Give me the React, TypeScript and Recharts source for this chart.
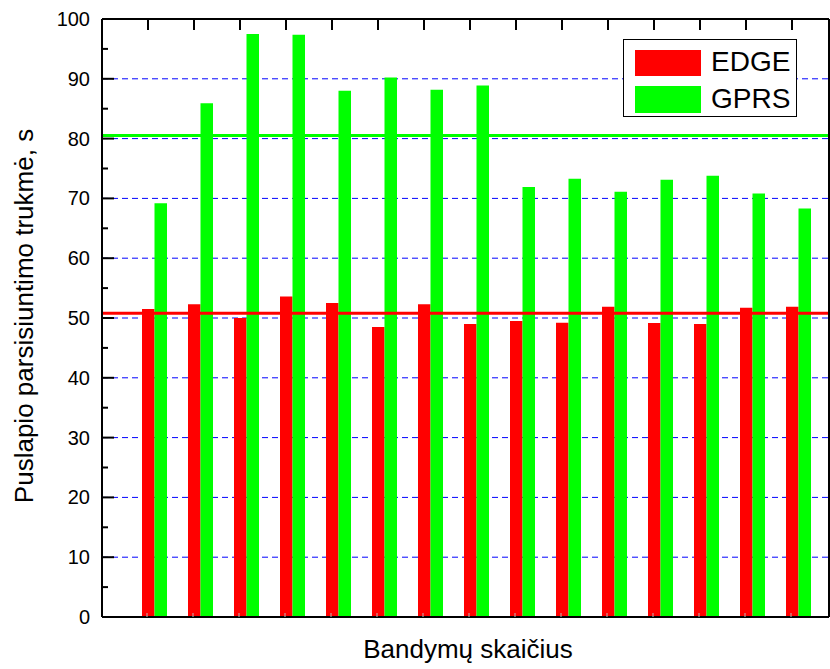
import React from 'react';
import {
  BarChart,
  Bar,
  XAxis,
  YAxis,
  CartesianGrid,
  ReferenceLine,
  Legend
} from 'recharts';

const TRIALS = ['1', '2', '3', '4', '5', '6', '7', '8', '9', '10', '11', '12', '13', '14', '15'];
const EDGE = [51.5, 52.3, 50.0, 53.6, 52.5, 48.5, 52.3, 49.0, 49.5, 49.2, 51.9, 49.15, 49.0, 51.7, 51.9];
const GPRS = [69.2, 85.9, 97.5, 97.35, 88.0, 90.2, 88.15, 88.9, 71.9, 73.3, 71.1, 73.1, 73.8, 70.8, 68.3];
const Y_TICKS = [0, 5, 10, 15, 20, 25, 30, 35, 40, 45, 50, 55, 60, 65, 70, 75, 80, 85, 90, 95, 100];
const GRID_VALUES = [10, 20, 30, 40, 50, 60, 70, 80, 90];

const FONT = 'Liberation Sans, Arial, Helvetica, sans-serif';
const W = 830;
const H = 669;
const PLOT_LEFT = 102;
const PLOT_RIGHT = 829;
const PLOT_TOP = 19;
const PLOT_BOTTOM = 617;

const mean = (arr: number[]) => arr.reduce((s, v) => s + v, 0) / arr.length;

const chartData = TRIALS.map((t, i) => ({ trial: t, edge: EDGE[i], gprs: GPRS[i] }));

const LeftTick = ({ x, y, payload }: any) => {
  const major = payload.value % 10 === 0;
  return (
    <g>
      <line x1={PLOT_LEFT} x2={PLOT_LEFT + (major ? 12 : 6)} y1={y} y2={y} stroke="#000" strokeWidth={2} />
      {major && (
        <text x={x} y={y} dy={7} textAnchor="end" fontFamily={FONT} fontSize={20} fill="#000">
          {payload.value}
        </text>
      )}
    </g>
  );
};

const RightTick = ({ y, payload }: any) => {
  const major = payload.value % 10 === 0;
  return <line x1={PLOT_RIGHT} x2={PLOT_RIGHT - (major ? 12 : 6)} y1={y} y2={y} stroke="#000" strokeWidth={2} />;
};

const TopTick = ({ x }: any) => (
  <line x1={x} x2={x} y1={PLOT_TOP} y2={PLOT_TOP + 11} stroke="#000" strokeWidth={2} />
);

const BottomTick = ({ x }: any) => (
  <line x1={x - 7} x2={x - 7} y1={PLOT_BOTTOM} y2={PLOT_BOTTOM - 4} stroke="#bbb" strokeWidth={1} />
);

const LegendBox = () => (
  <div
    style={{
      position: 'relative',
      width: 174,
      height: 78,
      border: '1.5px solid #000',
      background: '#fff',
      boxSizing: 'border-box',
      fontFamily: FONT,
      fontSize: 28,
      color: '#000'
    }}
  >
    <div style={{ position: 'absolute', left: 11, top: 10, width: 66, height: 26, background: '#ff0000' }} />
    <div style={{ position: 'absolute', left: 87, top: 6, lineHeight: '32px' }}>EDGE</div>
    <div style={{ position: 'absolute', left: 11, top: 46, width: 66, height: 27, background: '#00ff00' }} />
    <div style={{ position: 'absolute', left: 87, top: 43, lineHeight: '32px' }}>GPRS</div>
  </div>
);

export default function App() {
  return (
    <div style={{ position: 'absolute', left: 0, top: 0, width: W, height: H, background: '#fff' }}>
      <BarChart
        width={W}
        height={H}
        data={chartData}
        margin={{ top: 0, right: 0, bottom: 0, left: 0 }}
        barGap={0}
        barSize={12.5}
      >
        <CartesianGrid
          vertical={false}
          horizontalValues={GRID_VALUES}
          stroke="#0000ff"
          strokeDasharray="6 4"
        />
        <XAxis
          dataKey="trial"
          height={PLOT_BOTTOM === 617 ? H - PLOT_BOTTOM : 52}
          padding={{ left: 29, right: 8 }}
          axisLine={{ stroke: '#000', strokeWidth: 2 }}
          tickLine={false}
          tick={<BottomTick />}
          interval={0}
          label={() => (
            <text x={468} y={658} textAnchor="middle" fontFamily={FONT} fontSize={26} fill="#000">
              Bandymų skaičius
            </text>
          )}
        />
        <XAxis
          xAxisId="top"
          orientation="top"
          dataKey="trial"
          height={PLOT_TOP}
          padding={{ left: 23, right: 14 }}
          axisLine={{ stroke: '#000', strokeWidth: 2 }}
          tickLine={false}
          tick={<TopTick />}
          interval={0}
        />
        <YAxis
          domain={[0, 100]}
          ticks={Y_TICKS}
          interval={0}
          width={PLOT_LEFT}
          axisLine={{ stroke: '#000', strokeWidth: 2 }}
          tickLine={false}
          tickSize={0}
          tickMargin={12}
          tick={<LeftTick />}
          label={() => (
            <text
              transform="translate(33, 316) rotate(-90)"
              textAnchor="middle"
              fontFamily={FONT}
              fontSize={26}
              fill="#000"
            >
              Puslapio parsisiuntimo trukmė, s
            </text>
          )}
        />
        <YAxis
          yAxisId="right"
          orientation="right"
          domain={[0, 100]}
          ticks={Y_TICKS}
          interval={0}
          width={W - PLOT_RIGHT}
          axisLine={{ stroke: '#000', strokeWidth: 2 }}
          tickLine={false}
          tick={<RightTick />}
        />
        <Legend
          layout="vertical"
          align="center"
          verticalAlign="middle"
          content={<LegendBox />}
          wrapperStyle={{ position: 'absolute', left: 623, top: 39, width: 174, height: 78 }}
        />
        <Bar dataKey="edge" name="EDGE" fill="#ff0000" isAnimationActive={false} />
        <Bar dataKey="gprs" name="GPRS" fill="#00ff00" isAnimationActive={false} />
        <ReferenceLine y={mean(EDGE)} stroke="#ff0000" strokeWidth={3} />
        <ReferenceLine y={mean(GPRS)} stroke="#00ff00" strokeWidth={3} />
      </BarChart>
    </div>
  );
}
